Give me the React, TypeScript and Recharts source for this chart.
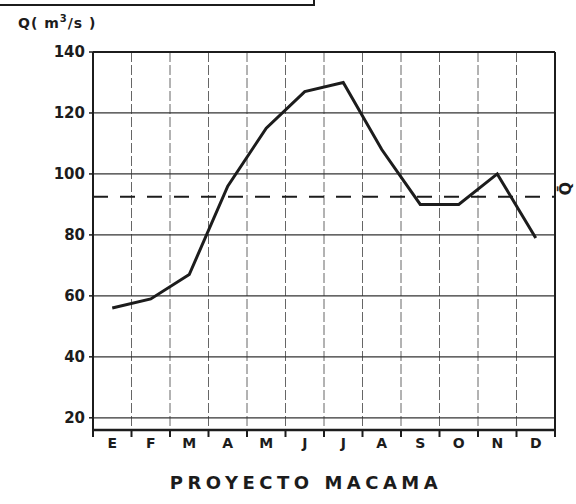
import { CartesianGrid, Line, LineChart, ReferenceLine, XAxis, YAxis } from 'recharts';

const months = ['E', 'F', 'M', 'A', 'M', 'J', 'J', 'A', 'S', 'O', 'N', 'D'];
const caudal = [56, 59, 67, 96, 115, 127, 130, 108, 90, 90, 100, 79];
const caudalMedio = 92.5;
const yTicks = [20, 40, 60, 80, 100, 120, 140];
const monthBounds = [0, 1, 2, 3, 4, 5, 6, 7, 8, 9, 10, 11, 12];

const data = months.map((m, i) => ({ x: i + 0.5, mes: m, q: caudal[i] }));

const W = 576;
const H = 504;
const M = { top: 52, right: 21, bottom: 44, left: 0 };
const Y_W = 93;
const X_H = 30;
const BAND = (W - M.right - Y_W) / 12;
const INK = '#1c1c1c';
const FONT = '"DejaVu Sans", sans-serif';

function MonthTick(props: any) {
  const { x, y, payload, index } = props;
  return (
    <g>
      <line x1={x} x2={x} y1={y - 1} y2={y + 7} stroke={INK} strokeWidth={2} />
      {index < 12 && (
        <text x={x + BAND / 2} y={y + 18} textAnchor="middle" fontFamily={FONT} fontWeight="bold" fontSize={14} fill={INK}>
          {months[payload.value]}
        </text>
      )}
    </g>
  );
}

function QBarLabel(props: any) {
  const vb = props.viewBox || {};
  const x = vb.x + vb.width + 11;
  const y = vb.y - 8;
  return (
    <text
      x={x}
      y={y}
      transform={`rotate(-90, ${x}, ${y})`}
      textAnchor="middle"
      dominantBaseline="central"
      fontFamily={FONT}
      fontWeight="bold"
      fontSize={16}
      fill={INK}
    >
      Q̄
    </text>
  );
}

export default function App() {
  return (
    <div style={{ position: 'absolute', left: 0, top: 0, width: W, height: H, background: '#fff', overflow: 'hidden' }}>
      {/* trozo del recuadro de arriba */}
      <div style={{ position: 'absolute', left: -3, top: -3, width: 314, height: 5, border: `2px solid ${INK}` }} />
      <div
        style={{
          position: 'absolute',
          left: 18,
          top: 13,
          fontFamily: FONT,
          fontWeight: 'bold',
          fontSize: 14,
          letterSpacing: 1,
          color: INK,
          whiteSpace: 'nowrap',
        }}
      >
        Q( m<sup style={{ fontSize: 10 }}>3</sup>/s )
      </div>
      <LineChart width={W} height={H} data={data} margin={M}>
        <CartesianGrid
          stroke="#666"
          strokeWidth={1}
          horizontal={false}
          strokeDasharray="10 3"
        />
        <CartesianGrid stroke="#333" strokeWidth={1.2} vertical={false} />
        <XAxis
          dataKey="x"
          type="number"
          domain={[0, 12]}
          ticks={monthBounds}
          interval={0}
          height={X_H}
          tick={<MonthTick />}
          tickLine={false}
          tickSize={0}
          tickMargin={0}
          axisLine={{ stroke: INK, strokeWidth: 2.5 }}
        />
        <YAxis
          type="number"
          domain={[16, 140]}
          ticks={yTicks}
          interval={0}
          width={Y_W}
          tickSize={4}
          tickMargin={4}
          tickLine={{ stroke: INK, strokeWidth: 1.5 }}
          axisLine={{ stroke: INK, strokeWidth: 2 }}
          tick={{ fill: INK, fontFamily: FONT, fontWeight: 'bold', fontSize: 15 }}
        />
        <ReferenceLine y={140} stroke={INK} strokeWidth={2} />
        <ReferenceLine x={12} stroke={INK} strokeWidth={2} />
        <ReferenceLine
          y={caudalMedio}
          stroke={INK}
          strokeWidth={2}
          strokeDasharray="15 12"
          label={<QBarLabel />}
        />
        <Line
          type="linear"
          dataKey="q"
          stroke={INK}
          strokeWidth={3}
          dot={false}
          isAnimationActive={false}
        />
      </LineChart>
      <div
        style={{
          position: 'absolute',
          left: 18,
          width: W,
          top: 472,
          textAlign: 'center',
          fontFamily: FONT,
          fontWeight: 'bold',
          fontSize: 18,
          letterSpacing: 4.5,
          color: INK,
        }}
      >
        PROYECTO MACAMA
      </div>
    </div>
  );
}
